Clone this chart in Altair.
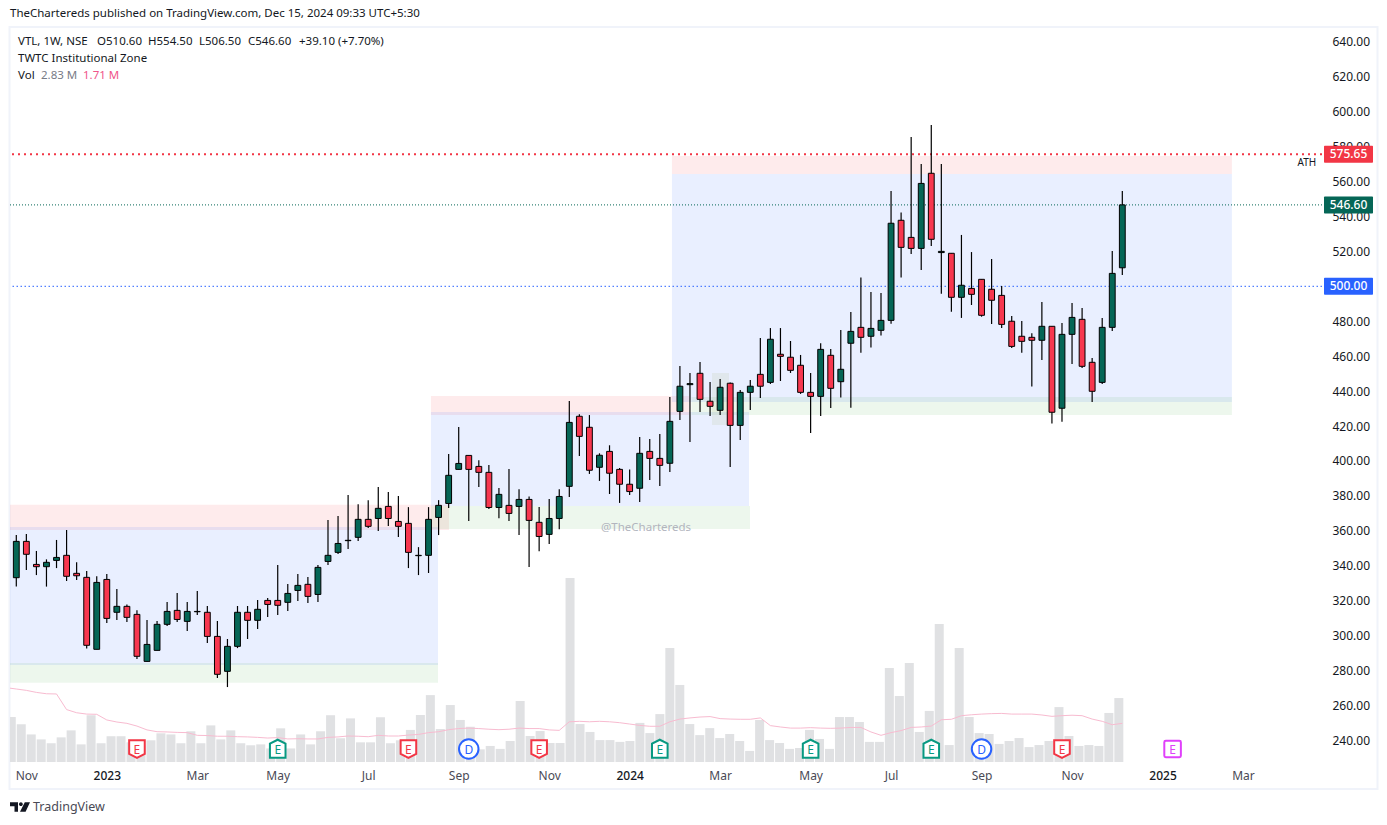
import altair as alt
import pandas as pd

FONT = "Noto Sans"
GREEN, RED = "#056656", "#f7374f"

OPEN = [333.2,354.0,340.8,339.5,343.1,346.0,335.7,333.4,292.2,332.2,313.4,316.8,312.2,285.3,291.6,306.5,314.5,308.2,313.7,313.4,
299.6,279.6,293.9,313.4,308.8,320.2,320.2,319.1,325.9,329.4,323.6,342.5,347.7,354.4,356.3,366.6,367.1,374.0,365.4,364.3,
345.8,346.0,367.7,375.7,395.2,403.2,396.9,393.5,373.4,374.6,374.0,378.0,364.9,358.0,367.1,385.5,425.6,419.3,396.4,405.5,
395.2,386.7,384.4,405.5,401.5,398.7,428.4,443.7,450.2,434.2,429.0,444.5,420.4,439.3,449.6,445.0,461.1,459.4,454.8,439.3,
437.0,460.5,445.4,467.4,476.5,471.4,474.8,480.5,537.8,528.0,521.7,564.7,519.3,518.9,493.7,498.8,504.0,498.3,494.8,480.0,
471.4,470.8,469.1,477.1,430.2,472.5,481.1,456.5,445.0,476.5,510.6]
CLOSE = [354.0,346.6,339.5,342.0,344.8,334.0,334.3,294.5,330.5,309.9,316.8,310.5,288.2,295.0,306.5,313.9,309.3,313.9,313.9,299.6,
277.9,293.9,313.4,308.8,315.1,317.9,317.4,324.2,328.8,322.5,339.1,346.0,352.8,354.6,366.6,362.6,372.9,367.1,362.6,347.7,
346.0,366.6,374.6,391.8,398.6,395.2,393.5,373.4,380.9,370.0,378.0,366.0,356.8,367.1,379.7,422.1,414.1,394.7,403.3,393.0,
386.7,382.5,404.4,401.5,397.5,422.7,442.8,444.3,435.3,431.3,442.2,420.4,439.3,442.8,442.8,469.7,459.9,451.9,439.3,437.0,
463.9,441.6,452.5,474.2,470.8,475.9,480.5,536.1,522.3,521.7,558.9,526.9,520.0,493.7,500.6,495.4,483.4,492.0,478.2,465.6,
468.5,469.1,477.1,427.9,472.5,482.2,454.2,439.9,476.5,507.4,546.6]
HIGH = [357.6,358.2,348.5,343.7,354.8,360.5,342.0,337.0,334.0,335.3,326.7,317.9,314.5,309.0,308.4,319.3,324.4,319.3,325.6,317.0,
308.4,298.1,317.0,317.0,320.4,321.6,340.4,329.6,335.3,333.6,340.4,366.2,368.5,380.5,375.3,377.6,385.1,382.2,379.9,373.6,
350.7,373.6,377.6,404.0,419.4,403.2,400.5,397.7,384.5,395.4,383.9,379.7,373.6,378.2,383.9,434.4,426.7,426.3,404.4,409.0,
396.0,395.2,413.8,412.6,415.5,436.6,454.4,450.4,456.7,445.2,447.0,445.0,440.7,446.4,470.4,476.1,476.1,468.7,460.7,450.4,
467.4,464.1,475.0,485.3,505.1,496.7,496.2,554.6,542.3,585.5,570.0,592.3,570.0,518.9,529.4,519.6,504.0,515.6,500.2,483.0,
480.1,473.1,491.0,477.1,479.0,490.5,487.6,459.0,481.9,520.2,554.5]
LOW = [328.1,337.6,334.7,328.1,338.7,331.3,331.9,292.6,292.2,307.2,309.0,307.8,286.6,285.3,291.6,305.5,307.8,302.7,311.8,295.8,
275.8,270.6,292.9,298.1,303.8,310.7,311.8,314.1,319.8,318.7,319.3,340.4,346.7,349.6,354.2,361.6,359.9,362.8,356.5,338.7,
334.7,335.9,357.6,373.1,395.2,365.6,385.1,372.5,367.3,365.6,357.6,339.3,348.4,352.5,361.0,379.4,402.9,392.6,388.6,381.1,
376.0,380.6,376.5,389.1,385.7,393.7,423.5,410.9,428.1,425.8,426.3,396.6,412.0,429.2,436.1,444.1,445.8,450.4,438.4,416.0,
425.8,430.4,436.3,430.5,462.0,464.9,471.8,478.6,505.0,518.5,509.3,523.1,495.8,485.5,481.9,489.3,482.6,478.4,476.1,464.7,
462.0,442.6,457.8,421.4,422.5,455.5,453.2,433.8,444.1,474.4,506.5]

# volume in millions, first value belongs to the bar clipped by the left edge
VOLUME = [1.99,1.67,1.22,1.00,0.83,1.09,1.40,0.78,2.07,0.83,1.14,1.14,0.87,0.74,0.96,1.27,1.22,0.83,1.36,0.83,1.62,
1.00,1.40,0.83,0.74,0.78,0.60,1.49,0.60,1.22,0.78,1.36,2.07,1.05,1.93,0.87,0.87,1.98,0.83,0.96,
1.42,2.08,2.96,1.46,2.52,1.86,1.56,0.56,0.71,0.58,0.93,2.70,1.15,1.37,0.84,0.84,8.14,1.68,1.33,0.97,
0.97,0.89,0.93,1.73,1.28,2.12,5.04,3.41,1.68,1.19,1.50,1.06,1.24,0.93,0.49,1.86,0.97,0.84,0.58,0.62,
1.42,1.02,0.58,1.99,1.99,1.77,0.89,0.89,4.16,2.92,4.38,1.33,2.26,6.11,0.75,5.04,1.99,1.28,1.24,0.80,
0.93,1.06,0.66,0.75,0.93,2.43,1.15,0.71,0.75,0.71,2.17,2.83]
VOLUME_MA = [3.29,3.23,3.17,3.08,3.02,3.01,2.32,2.18,2.12,2.11,1.86,1.77,1.71,1.59,1.42,1.34,1.33,1.31,1.30,1.18,1.17,
1.14,1.14,1.12,1.11,1.09,1.06,1.08,1.02,1.03,1.02,1.02,1.09,1.11,1.15,1.14,1.12,1.18,1.15,1.15,
1.19,1.22,1.30,1.34,1.43,1.48,1.50,1.48,1.45,1.43,1.45,1.50,1.48,1.48,1.42,1.40,1.78,1.80,1.78,1.80,
1.78,1.74,1.68,1.62,1.58,1.58,1.78,1.90,1.95,1.99,2.01,1.92,1.90,1.89,1.89,1.95,1.61,1.55,1.50,1.50,
1.52,1.50,1.49,1.50,1.53,1.53,1.33,1.18,1.30,1.39,1.53,1.55,1.59,1.87,1.89,2.05,2.09,2.12,2.14,2.15,
2.12,2.12,2.12,2.08,2.02,2.05,2.07,2.05,1.90,1.80,1.65,1.71]

ZONE_X = [-1, -1, -1, 41.24, 41.24, 41.24, 65.21, 65.21, 67.15, 69.19]
ZONE_X2 = [43.03, 41.94, 41.94, 66.90, 72.87, 72.97, 120.9, 120.9, 120.9, 70.88]
ZONE_TOP = [375.0, 362.2, 284.4, 437.2, 428.0, 374.2, 574.6, 564.3, 436.6, 450.4]
ZONE_BOTTOM = [360.5, 283.2, 273.1, 426.3, 374.2, 361.1, 564.3, 433.8, 426.3, 420.6]
ZONE_COLOR = ["#f23645", "#2962ff", "#4caf50", "#f23645", "#2962ff", "#4caf50", "#f23645", "#2962ff", "#4caf50", "#a5b060"]
ZONE_ALPHA = [0.1, 0.1, 0.1, 0.1, 0.1, 0.1, 0.1, 0.1, 0.1, 0.12]

TICK_POS = [1, 9, 18, 26, 35, 44, 53, 61, 70, 79, 87, 96, 105, 114, 122]
TICK_TEXT = ["Nov", "2023", "Mar", "May", "Jul", "Sep", "Nov", "2024", "Mar", "May", "Jul", "Sep", "Nov", "2025", "Mar"]
PRICE_TICKS = list(range(240, 641, 20))

LEVEL_PRICE = [575.65, 546.60, 500.00]
LEVEL_COLOR = ["#f23645", GREEN, "#2962ff"]
LEVEL_TAG_COLOR = ["#f23645", GREEN, "#2962ff"]

EVENT_POS = [12, 26, 39, 45, 52, 64, 79, 91, 96, 104, 115]
EVENT_TEXT = ["E", "E", "E", "D", "E", "E", "E", "E", "D", "E", "E"]
EVENT_COLOR = ["#f23645", "#089981", "#f23645", "#2962ff", "#f23645", "#089981", "#089981", "#089981", "#2962ff", "#f23645", "#e040fb"]

DOWN = "M-0.8,-0.9 L0.8,-0.9 L0.8,0.5 L0,0.9 L-0.8,0.5 Z"
UP = "M0,-0.95 L0.8,-0.55 L0.8,0.9 L-0.8,0.9 L-0.8,-0.55 Z"
ROUND = "M-0.7,-0.85 L0.7,-0.85 Q0.85,-0.85 0.85,-0.7 L0.85,0.7 Q0.85,0.85 0.7,0.85 L-0.7,0.85 Q-0.85,0.85 -0.85,0.7 L-0.85,-0.7 Q-0.85,-0.85 -0.7,-0.85 Z"
EVENT_SHAPE = [DOWN, UP, DOWN, "circle", DOWN, UP, UP, UP, "circle", DOWN, ROUND]
LOGO = "M-1,-0.48 L-0.2,-0.48 L-0.2,0.48 L-0.55,0.48 L-0.55,-0.08 L-1,-0.08 Z M0.28,-0.28 A0.19,0.19 0 1 1 -0.1,-0.28 A0.19,0.19 0 1 1 0.28,-0.28 Z M0.48,-0.48 L1,-0.48 L0.56,0.48 L0,0.48 Z"

W, H = 1312, 734
X_DOMAIN = [-0.6266, 129.86]
PRICE_DOMAIN = [227.7, 647.86]
VOL_DOMAIN = [0, 32.48]

x_scale = alt.Scale(domain=X_DOMAIN, nice=False, zero=False)
p_scale = alt.Scale(domain=PRICE_DOMAIN, nice=False, zero=False)
v_scale = alt.Scale(domain=VOL_DOMAIN, nice=False, zero=False)


def X(field="idx"):
    return alt.X(f"{field}:Q", scale=x_scale, axis=None)


def Y(field):
    return alt.Y(f"{field}:Q", scale=p_scale, axis=None)


candles = pd.DataFrame({"idx": range(len(OPEN)), "o": OPEN, "c": CLOSE, "h": HIGH, "l": LOW})
candles["col"] = [GREEN if c >= o else RED for o, c in zip(OPEN, CLOSE)]
vol = pd.DataFrame({"idx": range(-1, len(VOLUME) - 1), "v": VOLUME, "ma": VOLUME_MA})
zones = pd.DataFrame({"a": ZONE_X, "b": ZONE_X2, "t": ZONE_TOP, "u": ZONE_BOTTOM, "col": ZONE_COLOR, "al": ZONE_ALPHA})
levels = pd.DataFrame({"p": LEVEL_PRICE, "col": LEVEL_TAG_COLOR, "t": [f"{p:.2f}" for p in LEVEL_PRICE]})
events = pd.DataFrame({"idx": EVENT_POS, "t": EVENT_TEXT, "col": EVENT_COLOR, "s": EVENT_SHAPE})

vol_bars = alt.Chart(vol).mark_bar(size=9, color="#e0e1e3", clip=True).encode(
    x=X(), y=alt.Y("v:Q", scale=v_scale, axis=None))
vol_line = alt.Chart(vol).mark_line(color="#f8bbd0", strokeWidth=1, clip=True).encode(
    x=X(), y=alt.Y("ma:Q", scale=v_scale, axis=None))

zone_layer = alt.Chart(zones).mark_rect(clip=True).encode(
    x=X("a"), x2="b:Q", y=Y("t"), y2="u:Q",
    color=alt.Color("col:N", scale=None), opacity=alt.Opacity("al:Q", scale=None))

level_rules = [
    alt.Chart(pd.DataFrame({"p": [LEVEL_PRICE[0]]})).mark_rule(color=LEVEL_COLOR[0], strokeWidth=2, strokeDash=[2, 4]).encode(y=Y("p")),
    alt.Chart(pd.DataFrame({"p": [LEVEL_PRICE[1]]})).mark_rule(color=LEVEL_COLOR[1], strokeWidth=1, strokeDash=[1, 2]).encode(y=Y("p")),
    alt.Chart(pd.DataFrame({"p": [LEVEL_PRICE[2]]})).mark_rule(color=LEVEL_COLOR[2], strokeWidth=1, strokeDash=[1.5, 2.5]).encode(y=Y("p")),
]

wicks = alt.Chart(candles).mark_rule(color="#000000", strokeWidth=1.2).encode(x=X(), y=Y("h"), y2="l:Q")
bodies = alt.Chart(candles).transform_calculate(
    x0="datum.idx - 0.29", x1="datum.idx + 0.29"
).mark_rect(stroke="#000000", strokeWidth=1).encode(
    x=X("x0"), x2="x1:Q", y=Y("o"), y2="c:Q", color=alt.Color("col:N", scale=None))

price_axis = alt.Axis(orient="right", values=PRICE_TICKS, format=".2f", domain=False, ticks=False, grid=False,
                      labelFont=FONT, labelFontSize=12, labelColor="#131722", labelPadding=10, title=None, labelAlign="left")
pos = "[" + ",".join(map(str, TICK_POS)) + "]"
txt = "[" + ",".join(f"'{t}'" for t in TICK_TEXT) + "]"
time_axis = alt.Axis(orient="bottom", values=TICK_POS, domain=False, ticks=False, grid=False, title=None,
                     labelFont=FONT, labelFontSize=12, labelPadding=8, labelOverlap=False,
                     labelExpr=f"{txt}[indexof({pos}, datum.value)]",
                     labelColor={"expr": "indexof([9,61,114], datum.value) >= 0 ? '#131722' : '#4a4a55'"},
                     labelFontWeight={"expr": "indexof([9,61,114], datum.value) >= 0 ? 500 : 400"})
axes = alt.Chart(candles).mark_point(opacity=0).encode(
    x=alt.X("idx:Q", scale=x_scale, axis=time_axis), y=alt.Y("c:Q", scale=p_scale, axis=price_axis))

tags = alt.Chart(levels).mark_rect(height=17, cornerRadius=1).encode(
    x=alt.value(1314), x2=alt.value(1363), y=Y("p"), color=alt.Color("col:N", scale=None))
tag_text = alt.Chart(levels).mark_text(font=FONT, fontSize=12, fontWeight=500, color="#ffffff", align="center", baseline="middle").encode(
    x=alt.value(1338.5), y=Y("p"), text="t:N")

event_marks = alt.Chart(events).mark_point(size=380, filled=True, fill="#ffffff", strokeWidth=2, opacity=1).encode(
    x=X(), y=alt.value(721), stroke=alt.Stroke("col:N", scale=None), shape=alt.Shape("s:N", scale=None))
event_text = alt.Chart(events).mark_text(font=FONT, fontSize=12, align="center", baseline="middle").encode(
    x=X(), y=alt.value(721.5), text="t:N", color=alt.Color("col:N", scale=None))


def label(text, px, py, size=11.5, color="#131722", align="left", weight=400):
    return alt.Chart(pd.DataFrame({"t": [text]})).mark_text(
        font=FONT, fontSize=size, color=color, align=align, baseline="middle", fontWeight=weight
    ).encode(x=alt.value(px - 10), y=alt.value(py - 28), text="t:N")


frame = alt.Chart(pd.DataFrame({"k": [0]})).mark_rect(fillOpacity=0, stroke="#f0f3fa", strokeWidth=2).encode(
    x=alt.value(-0.5), x2=alt.value(1367.5), y=alt.value(-1), y2=alt.value(761))
logo = alt.Chart(pd.DataFrame({"k": [0]})).mark_point(shape=LOGO, size=400, filled=True, color="#131722", opacity=1).encode(
    x=alt.value(10), y=alt.value(779))

texts = [
    label("TheChartereds published on TradingView.com, Dec 15, 2024 09:33 UTC+5:30", 10, 14),
    label("VTL, 1W, NSE", 18, 42),
    label("O510.60", 97, 42),
    label("H554.50", 148, 42),
    label("L506.50", 199, 42),
    label("C546.60", 248, 42),
    label("+39.10 (+7.70%)", 299, 42),
    label("TWTC Institutional Zone", 18, 59),
    label("Vol", 18, 76),
    label("2.83 M", 41, 76, color="#787b86"),
    label("1.71 M", 83, 76, color="#f0548a"),
    label("ATH", 1297.5, 163, size=10),
    label("@TheChartereds", 601, 528, color="#b2b5be"),
    label("TradingView", 33, 807, size=12.5, color="#4a4a55"),
]

chart = alt.layer(
    frame, vol_bars, vol_line, zone_layer, *level_rules, wicks, bodies, axes,
    tags, tag_text, event_marks, event_text, logo, *texts
).resolve_scale(x="independent", y="independent", color="independent").properties(
    width=W, height=H,
    autosize=alt.AutoSizeParams(type="none"),
    padding={"left": 2, "top": 20, "right": 57, "bottom": 55},
    background="#ffffff",
).configure_view(stroke=None)

chart.save("out.html", embed_options={"renderer": "svg", "actions": False})
